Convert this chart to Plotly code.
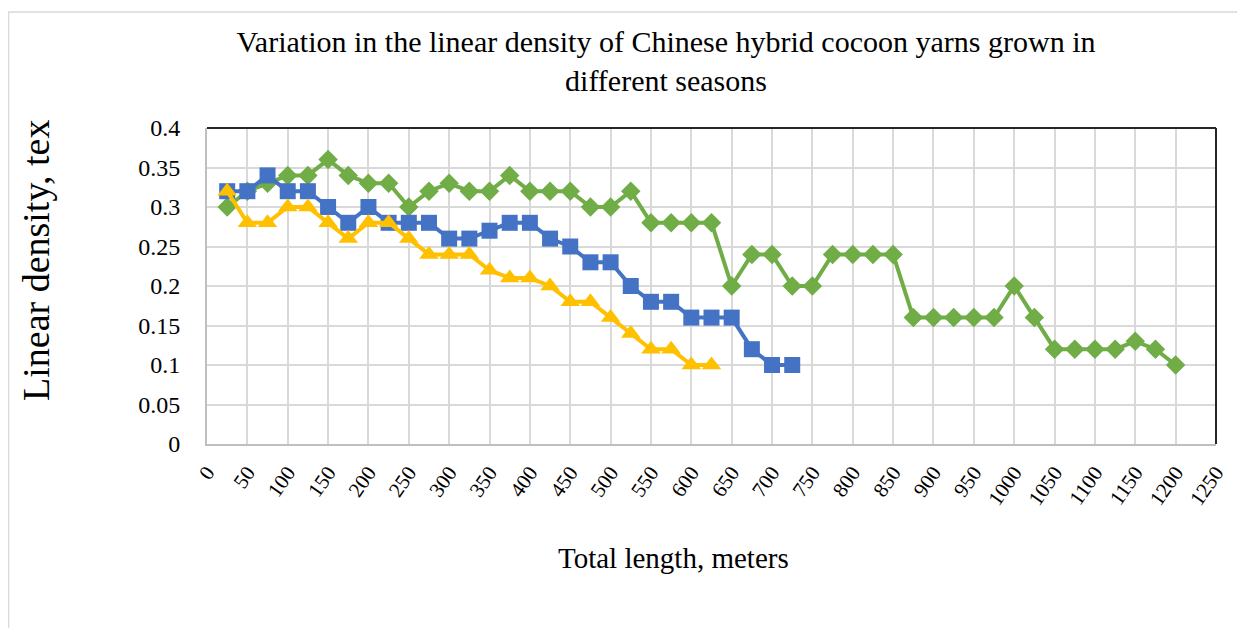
import plotly.graph_objects as go

green_x = list(range(25, 1201, 25))
green_y = [0.30, 0.32, 0.33, 0.34, 0.34, 0.36, 0.34, 0.33, 0.33, 0.30,
           0.32, 0.33, 0.32, 0.32, 0.34, 0.32, 0.32, 0.32, 0.30, 0.30,
           0.32, 0.28, 0.28, 0.28, 0.28, 0.20, 0.24, 0.24, 0.20, 0.20,
           0.24, 0.24, 0.24, 0.24, 0.16, 0.16, 0.16, 0.16, 0.16, 0.20,
           0.16, 0.12, 0.12, 0.12, 0.12, 0.13, 0.12, 0.10]

blue_x = list(range(25, 726, 25))
blue_y = [0.32, 0.32, 0.34, 0.32, 0.32, 0.30, 0.28, 0.30, 0.28, 0.28,
          0.28, 0.26, 0.26, 0.27, 0.28, 0.28, 0.26, 0.25, 0.23, 0.23,
          0.20, 0.18, 0.18, 0.16, 0.16, 0.16, 0.12, 0.10, 0.10]

yellow_x = list(range(25, 626, 25))
yellow_y = [0.32, 0.28, 0.28, 0.30, 0.30, 0.28, 0.26, 0.28, 0.28, 0.26,
            0.24, 0.24, 0.24, 0.22, 0.21, 0.21, 0.20, 0.18, 0.18, 0.16,
            0.14, 0.12, 0.12, 0.10, 0.10]

x_ticks = list(range(0, 1251, 50))
y_ticks = [0, 0.05, 0.1, 0.15, 0.2, 0.25, 0.3, 0.35, 0.4]
y_tick_text = ["0", "0.05", "0.1", "0.15", "0.2", "0.25", "0.3", "0.35", "0.4"]

title_text = "Variation in the linear density of Chinese hybrid cocoon yarns grown in<br>different seasons"
x_title = "Total length, meters"
y_title = "Linear density, tex"

FONT = "Liberation Serif, Times New Roman, serif"

fig = go.Figure()
fig.add_trace(go.Scatter(x=green_x, y=green_y, mode="lines+markers",
                         line=dict(color="#70AD47", width=4),
                         marker=dict(symbol="diamond", size=15, color="#70AD47"),
                         showlegend=False))
fig.add_trace(go.Scatter(x=blue_x, y=blue_y, mode="lines+markers",
                         line=dict(color="#4472C4", width=4),
                         marker=dict(symbol="square", size=16, color="#4472C4"),
                         showlegend=False))
fig.add_trace(go.Scatter(x=yellow_x, y=yellow_y, mode="lines+markers",
                         line=dict(color="#FFC000", width=4),
                         marker=dict(symbol="triangle-up", size=17, color="#FFC000"),
                         showlegend=False))

OFF = 8  # default page body margin
W, H = 1245 - OFF, 628 - OFF
# plot area in page coordinates: x 207..1216, y 128..444
L = 207 - OFF
T = 128 - OFF
R = W - (1216 - OFF)
B = H - (444 - OFF)
pw, ph = W - L - R, H - T - B

def px(x):
    return (x - OFF - L) / pw

def py(y):
    return (H - B - (y - OFF)) / ph

fig.update_layout(
    width=W, height=H,
    margin=dict(l=L, r=R, t=T, b=B),
    paper_bgcolor="white", plot_bgcolor="white",
    font=dict(family=FONT, color="black", size=22),
    title=dict(text=title_text,
               x=(666 - OFF) / W, xanchor="center", y=1 - (52 - OFF) / H, yanchor="middle",
               font=dict(size=30, family=FONT, color="black")),
    xaxis=dict(range=[0, 1250], tickvals=x_ticks, ticktext=[str(v) for v in x_ticks],
               tickangle=-55, showgrid=True, gridcolor="#D9D9D9", gridwidth=2,
               zeroline=False, showline=True, linecolor="#BFBFBF", linewidth=2,
               ticks="outside", ticklen=6, tickcolor="rgba(0,0,0,0)",
               tickfont=dict(size=21, family=FONT)),
    yaxis=dict(range=[0, 0.4], tickvals=y_ticks, ticktext=y_tick_text,
               showgrid=True, gridcolor="#D9D9D9", gridwidth=2,
               zeroline=False, showline=True, linecolor="#BFBFBF", linewidth=2,
               ticks="outside", ticklen=20, tickcolor="rgba(0,0,0,0)",
               tickfont=dict(size=24, family=FONT)),
    annotations=[
        dict(text=x_title, xref="paper", yref="paper", x=px(673), y=py(558),
             xanchor="center", yanchor="middle", showarrow=False,
             font=dict(size=29, family=FONT, color="black")),
        dict(text=y_title, xref="paper", yref="paper", x=px(36), y=py(261),
             xanchor="center", yanchor="middle", showarrow=False, textangle=-90,
             font=dict(size=38, family=FONT, color="black")),
    ],
    shapes=[
        dict(type="line", xref="paper", yref="paper", x0=0, x1=1, y0=1, y1=1,
             line=dict(color="#262626", width=2)),
        dict(type="line", xref="paper", yref="paper", x0=1, x1=1, y0=0, y1=1,
             line=dict(color="#262626", width=2)),
        dict(type="rect", xref="paper", yref="paper", x0=px(OFF + 0.5), x1=px(1250), y0=py(12), y1=py(640),
             line=dict(color="#D9D9D9", width=1.5), layer="below"),
    ],
)

fig.write_html("out.html")
